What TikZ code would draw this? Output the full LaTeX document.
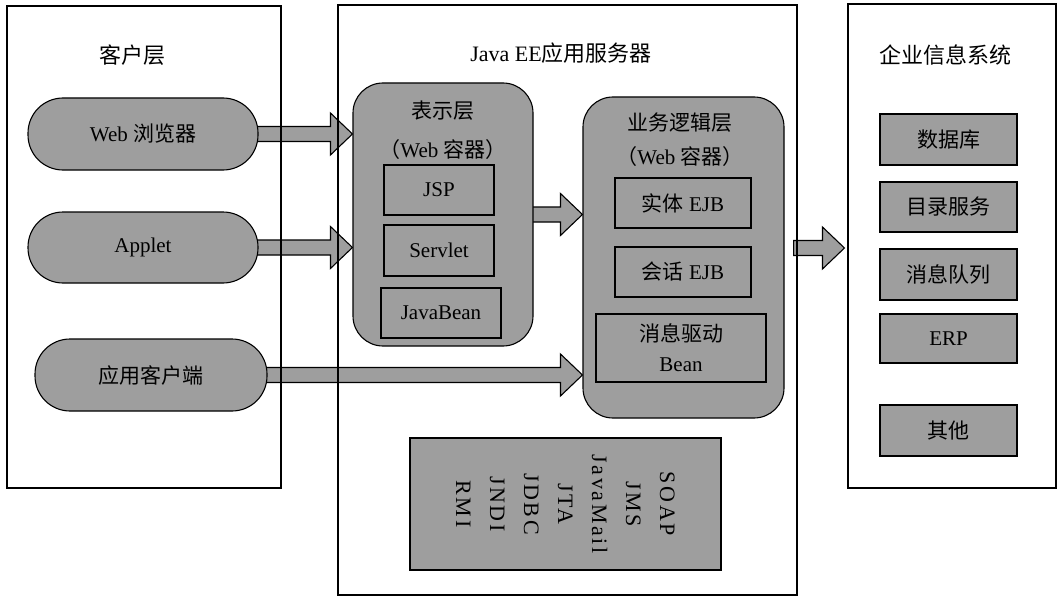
\documentclass[tikz,border=0pt]{standalone}
\usepackage{fontspec}
\setmainfont{Liberation Serif}
\newfontfamily\cjk{Noto Sans CJK SC}
\usetikzlibrary{calc}
\pgfdeclarelayer{bg}
\pgfsetlayers{bg,main}
\definecolor{fillgray}{gray}{0.62}
\newcommand{\zh}[1]{{\cjk #1}}
\newcommand{\barrow}[2]{\draw[blockarrow] let \p1=(#1), \p2=(#2) in
  (\x1-4pt,\y1+7.5pt) -- (\x2-22pt,\y1+7.5pt) -- (\x2-22pt,\y1+21pt) -- (\x2,\y1)
  -- (\x2-22pt,\y1-21pt) -- (\x2-22pt,\y1-7.5pt) -- (\x1-4pt,\y1-7.5pt) -- cycle;}
\begin{document}
\begin{tikzpicture}[x=1pt,y=-1pt,
  font=\fontsize{21}{25}\selectfont,
  title/.style={font=\fontsize{22}{26}\selectfont},
  frame/.style={draw, line width=1.1pt, inner sep=0pt},
  pill/.style={draw, fill=fillgray, rounded corners=35pt, line width=1.1pt, inner sep=0pt},
  tier/.style={draw, fill=fillgray, rounded corners=30pt, line width=1.1pt, inner sep=0pt},
  comp/.style={draw, fill=fillgray, line width=1.1pt, inner sep=0pt, align=center},
  blockarrow/.style={draw, fill=fillgray, line width=1.1pt, line join=miter}]
\useasboundingbox (0,0) rectangle (1060,599);

% frames
\node[frame, minimum width=274pt, minimum height=482pt] (client) at (144,247) {};
\node[frame, minimum width=459pt, minimum height=590pt] (server) at (567.5,300) {};
\node[frame, minimum width=208pt, minimum height=484pt] (eis) at (952,246) {};

\node[title] (ctitle) at (132,55) {\zh{客户层}};
\node[title] (stitle) at (561,53) {Java EE\zh{应用服务器}};
\node[title] (etitle) at (945,55) {\zh{企业信息系统}};

% client pills
\node[pill, minimum width=230pt, minimum height=72pt] (web) at (143,134) {Web \zh{浏览器}};
\node[pill, minimum width=230pt, minimum height=71pt] (applet) at (143,247.5) {Applet};
\node[pill, minimum width=232pt, minimum height=72pt] (appclient) at (151,375) {\zh{应用客户端}};

% presentation tier
\node[tier, minimum width=180pt, minimum height=263pt] (pres) at (443,214.5) {};
\node (preslbl) at (443,111) {\zh{表示层}};
\node (prescont) at (443,150) {\zh{（}Web \zh{容器）}};
\node[comp, minimum width=110pt, minimum height=50pt] (jsp) at (439,190) {JSP};
\node[comp, minimum width=110pt, minimum height=51pt] (servlet) at (439,250.5) {Servlet};
\node[comp, minimum width=120pt, minimum height=50pt] (javabean) at (441,313) {JavaBean};

% business tier
\node[tier, minimum width=201pt, minimum height=321pt] (biz) at (683.5,257.5) {};
\node (bizlbl) at (680,123) {\zh{业务逻辑层}};
\node (bizcont) at (680,157) {\zh{（}Web \zh{容器）}};
\node[comp, minimum width=136pt, minimum height=50pt] (entity) at (683,203) {\zh{实体} EJB};
\node[comp, minimum width=136pt, minimum height=50pt] (session) at (683,272) {\zh{会话} EJB};
\node[comp, minimum width=170pt, minimum height=68pt, font=\fontsize{21}{30}\selectfont] (mdb) at (681,348) {\zh{消息驱动}\\Bean};

% API box
\node[comp, minimum width=311pt, minimum height=132pt] (api) at (565.5,504) {};
\node[rotate=-90, align=center, font=\fontsize{22}{34}\selectfont\addfontfeature{LetterSpace=12}] (apitext) at (api.center)
  {SOAP\\JMS\\JavaMail\\JTA\\JDBC\\JNDI\\RMI};

% EIS boxes
\node[comp, minimum width=137pt, minimum height=51pt] (db) at (948.5,139.5) {\zh{数据库}};
\node[comp, minimum width=137pt, minimum height=50pt] (dir) at (948.5,207) {\zh{目录服务}};
\node[comp, minimum width=137pt, minimum height=51pt] (mq) at (948.5,274.5) {\zh{消息队列}};
\node[comp, minimum width=137pt, minimum height=49pt] (erp) at (948.5,338.5) {ERP};
\node[comp, minimum width=137pt, minimum height=51pt] (other) at (948.5,430.5) {\zh{其他}};

% arrows
\coordinate (s5) at (server.east |- 0,248);
\coordinate (t5) at ([xshift=-3pt]eis.west);
\begin{pgfonlayer}{bg}
\barrow{web.east}{pres.west}
\barrow{applet.east}{pres.west}
\barrow{pres.east}{biz.west}
\barrow{appclient.east}{biz.west}
\barrow{s5}{t5}
\end{pgfonlayer}
\end{tikzpicture}
\end{document}
